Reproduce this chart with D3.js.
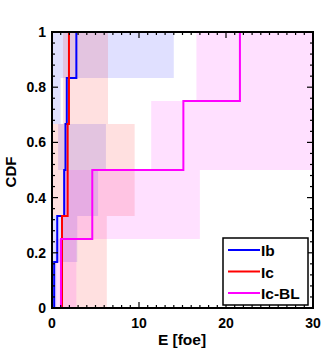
<!DOCTYPE html>
<html>
<head>
<meta charset="utf-8">
<script src="https://cdn.jsdelivr.net/npm/d3@7"></script>
<style>
  body { margin: 0; background: #fff; }
  text { font-family: "Liberation Sans", Arial, sans-serif; font-weight: bold; }
</style>
</head>
<body>
<div id="chart"></div>
<script>
// series names and colours
const seriesNames = ["Ib", "Ic", "Ic-BL"];
const seriesColors = ["#0000ff", "#ff0000", "#ff00ff"];

// energies of each object (sorted), one array per series
const ibE = [0.25, 0.6, 1.4, 1.55, 1.7, 2.8];
const icE = [1.15, 1.8, 1.95];
const icblE = [1.03, 4.63, 15.1, 21.6];

// uncertainty boxes (low / high) for each step
const ibLo = [0.05, 0.1, 1.3, 0.7, 0.1, 0.1];
const ibHi = [0.5, 2.9, 5.3, 6.2, 1.0, 14.0];
const icLo = [1.15, 0.1, 1.26];
const icHi = [6.3, 9.5, 6.44];
const icblLo = [0.4, 1.26, 11.4, 16.6];
const icblHi = [2.8, 17.0, 35, 35];

const xTicks = [0, 10, 20, 30];
const yTicks = [0, 0.2, 0.4, 0.6, 0.8, 1];

const series = [
    {name: seriesNames[0], color: seriesColors[0], e: ibE, lo: ibLo, hi: ibHi},
    {name: seriesNames[1], color: seriesColors[1], e: icE, lo: icLo, hi: icHi},
    {name: seriesNames[2], color: seriesColors[2], e: icblE, lo: icblLo, hi: icblHi},
];

const width = 327, height = 350;
const m = {left: 52, right: 313, top: 32, bottom: 308};

const x = d3.scaleLinear().domain([0, 30]).range([m.left, m.right]);
const y = d3.scaleLinear().domain([0, 1]).range([m.bottom, m.top]);

const svg = d3.select("#chart").append("svg")
    .attr("width", width)
    .attr("height", height);

svg.append("clipPath").attr("id", "clip")
    .append("rect")
    .attr("x", m.left).attr("y", m.top)
    .attr("width", m.right - m.left).attr("height", m.bottom - m.top);

const plot = svg.append("g").attr("clip-path", "url(#clip)");

// shaded boxes
series.forEach(s => {
    const n = s.e.length;
    plot.append("g").selectAll("rect")
        .data(s.e.map((e, i) => ({lo: s.lo[i], hi: s.hi[i], y0: i / n, y1: (i + 1) / n})))
        .join("rect")
        .attr("x", d => x(d.lo))
        .attr("width", d => x(d.hi) - x(d.lo))
        .attr("y", d => y(d.y1))
        .attr("height", d => y(d.y0) - y(d.y1))
        .attr("fill", s.color)
        .attr("fill-opacity", 0.12);
});

// CDF stairs
const line = d3.line()
    .x(d => x(d[0]))
    .y(d => y(d[1]))
    .curve(d3.curveStepAfter);

series.forEach(s => {
    const n = s.e.length;
    const pts = [[s.e[0], 0]].concat(s.e.map((e, i) => [e, (i + 1) / n]));
    plot.append("path")
        .attr("d", line(pts))
        .attr("fill", "none")
        .attr("stroke", s.color)
        .attr("stroke-width", 2);
});

// ticks (inward, on all four sides)
const axes = svg.append("g").attr("stroke", "#000").attr("stroke-width", 1.2);
d3.range(0, 31, 1).forEach(v => {
    const len = v % 10 === 0 ? 6 : 3;
    axes.append("line").attr("x1", x(v)).attr("x2", x(v)).attr("y1", m.bottom).attr("y2", m.bottom - len);
    axes.append("line").attr("x1", x(v)).attr("x2", x(v)).attr("y1", m.top).attr("y2", m.top + len);
});
d3.range(0, 26, 1).forEach(k => {
    const v = k * 0.04;
    const len = k % 5 === 0 ? 6 : 3;
    axes.append("line").attr("x1", m.left).attr("x2", m.left + len).attr("y1", y(v)).attr("y2", y(v));
    axes.append("line").attr("x1", m.right).attr("x2", m.right - len).attr("y1", y(v)).attr("y2", y(v));
});

// frame
svg.append("rect")
    .attr("x", m.left).attr("y", m.top)
    .attr("width", m.right - m.left).attr("height", m.bottom - m.top)
    .attr("fill", "none")
    .attr("stroke", "#000")
    .attr("stroke-width", 2);

// tick labels
svg.append("g").selectAll("text")
    .data(xTicks)
    .join("text")
    .attr("x", d => x(d))
    .attr("y", 328)
    .attr("text-anchor", "middle")
    .style("font-size", "14px")
    .text(d => d);

svg.append("g").selectAll("text")
    .data(yTicks)
    .join("text")
    .attr("x", 46)
    .attr("y", d => y(d) + 5)
    .attr("text-anchor", "end")
    .style("font-size", "14px")
    .text(d => d);

svg.append("text")
    .attr("x", 182)
    .attr("y", 345)
    .attr("text-anchor", "middle")
    .style("font-size", "15.5px")
    .text("E [foe]");

svg.append("text")
    .attr("transform", "translate(16,172) rotate(-90)")
    .attr("text-anchor", "middle")
    .style("font-size", "15px")
    .text("CDF");

// legend
const legend = svg.append("g");
legend.append("rect")
    .attr("x", 223).attr("y", 238)
    .attr("width", 85).attr("height", 67)
    .attr("fill", "#fff")
    .attr("stroke", "#000")
    .attr("stroke-width", 1.5);

const items = legend.selectAll("g.item")
    .data(series)
    .join("g")
    .attr("class", "item")
    .attr("transform", (d, i) => `translate(0,${250 + i * 21.5})`);

items.append("line")
    .attr("x1", 228).attr("x2", 260)
    .attr("stroke", d => d.color)
    .attr("stroke-width", 2);

items.append("text")
    .attr("x", 261)
    .attr("y", 6)
    .style("font-size", "15.5px")
    .text(d => d.name);
</script>
</body>
</html>
